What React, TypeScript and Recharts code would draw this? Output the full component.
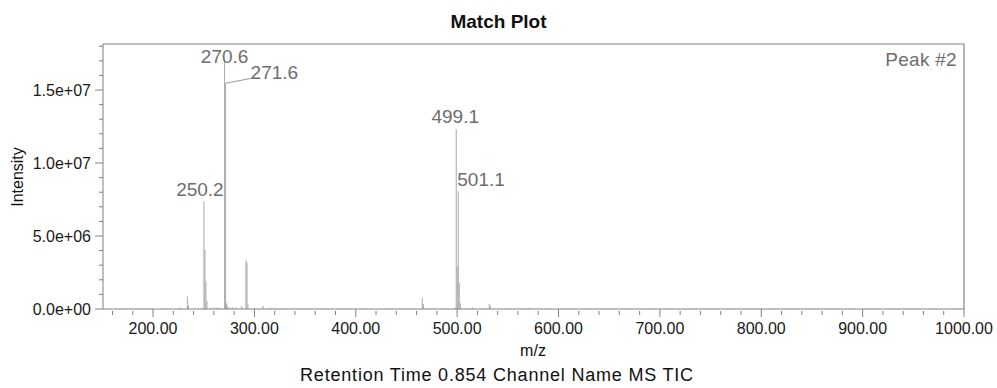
import { ComposedChart, Bar, XAxis, YAxis, ReferenceLine, LabelList } from 'recharts';

// m/z of every stick in the spectrum and its intensity
const mzValues = [
  226.6, 233.9, 234.9, 250.2, 251.2, 252.2, 253.2, 257.0, 260.0, 263.0, 266.0,
  270.6, 271.6, 272.6, 273.6, 276.0, 279.0, 282.0, 287.5, 291.7, 292.7, 293.7,
  300.0, 308.5, 315.5, 320.0, 465.6, 466.6, 498.1, 499.1, 500.1, 501.1, 502.1,
  503.1, 515.4, 531.7, 532.7, 571.0,
];
const intensities = [
  0.1e6, 0.86e6, 0.22e6, 7.36e6, 4.06e6, 1.89e6, 0.55e6, 0.08e6, 0.1e6, 0.1e6, 0.1e6,
  16.94e6, 15.46e6, 0.4e6, 0.2e6, 0.1e6, 0.12e6, 0.08e6, 0.2e6, 3.37e6, 3.17e6, 0.3e6,
  0.08e6, 0.2e6, 0.1e6, 0.05e6, 0.75e6, 0.35e6, 0.1e6, 12.31e6, 2.91e6, 8.04e6, 1.78e6,
  0.4e6, 0.1e6, 0.34e6, 0.2e6, 0.08e6,
];
// annotated peaks
const peakLabels = ['250.2', '270.6', '271.6', '499.1', '501.1'];

const xTicks = Array.from({ length: 43 }, (_, i) => 160 + i * 20);
const yTicks = Array.from({ length: 19 }, (_, i) => i * 1e6);

const data = mzValues.map((mz, i) => ({
  mz,
  intensity: intensities[i],
  label: peakLabels.find((l) => parseFloat(l) === mz),
}));

const FONT = '"Liberation Sans", Arial, sans-serif';
const AXIS = '#808080';

const fmtExp = (v: number) => {
  if (v === 0) return '0.0e+00';
  const e = Math.floor(Math.log10(v));
  const m = v / Math.pow(10, e);
  return `${m.toFixed(1)}e+${String(e).padStart(2, '0')}`;
};

const XTick = (props: any) => {
  const { x, y, payload } = props;
  const v = payload.value;
  const major = Math.abs(v % 100) < 1e-6;
  return (
    <g>
      <line x1={x} x2={x} y1={major ? y : y + 2} y2={major ? y + 8 : y + 6} stroke={AXIS} />
      {major && (
        <text x={x} y={y + 25} textAnchor="middle" fontSize={16} fill="#1a1a1a" fontFamily={FONT}>
          {v.toFixed(2)}
        </text>
      )}
    </g>
  );
};

const YTick = (props: any) => {
  const { x, y, payload } = props;
  const v = payload.value;
  const major = v % 5e6 === 0;
  return (
    <g>
      <line x1={x - (major ? 8 : 4)} x2={x} y1={y} y2={y} stroke={AXIS} />
      {major && (
        <text x={x - 12} y={y + 6} textAnchor="end" fontSize={16} fill="#1a1a1a" fontFamily={FONT}>
          {fmtExp(v)}
        </text>
      )}
    </g>
  );
};

const PeakLabel = (props: any) => {
  const { value } = props;
  if (!value) return null;
  const vb = props.viewBox ?? props;
  const cx = vb.x + (vb.width ?? 0) / 2;
  const top = vb.y;
  const common = { fontSize: 19, fill: '#6e6e6e', fontFamily: FONT };
  if (value === '271.6') {
    return (
      <g>
        <line x1={cx} y1={top} x2={cx + 26} y2={top - 5} stroke="#999" />
        <text x={cx + 25} y={top - 4} textAnchor="start" {...common}>{value}</text>
      </g>
    );
  }
  if (value === '501.1') {
    return <text x={cx - 1} y={top - 6} textAnchor="start" {...common}>{value}</text>;
  }
  if (value === '270.6') {
    return <text x={cx} y={top + 1} textAnchor="middle" {...common}>{value}</text>;
  }
  if (value === '250.2') {
    return <text x={cx - 4} y={top - 6} textAnchor="middle" {...common}>{value}</text>;
  }
  return <text x={cx - 1} y={top - 6} textAnchor="middle" {...common}>{value}</text>;
};

export default function App() {
  return (
    <div style={{ position: 'absolute', left: 0, top: 0, width: 997, height: 388, background: '#fff', fontFamily: FONT }}>
      <div style={{ position: 'absolute', left: 0, width: 997, top: 12, fontSize: 19, lineHeight: '19px', fontWeight: 'bold', textAlign: 'center', color: '#111' }}>
        Match Plot
      </div>
      <ComposedChart width={997} height={388} data={data} margin={{ top: 44, right: 33, bottom: 49, left: 43 }}>
        <XAxis
          dataKey="mz"
          type="number"
          domain={[150.65, 1000]}
          ticks={xTicks}
          interval={0}
          allowDataOverflow
          height={30}
          tickSize={0}
          tickMargin={0}
          tickLine={false}
          axisLine={{ stroke: AXIS }}
          tick={<XTick />}
        />
        <YAxis
          type="number"
          domain={[0, 18.15e6]}
          ticks={yTicks}
          interval={0}
          allowDataOverflow
          width={60}
          tickSize={0}
          tickMargin={0}
          tickLine={false}
          axisLine={{ stroke: AXIS }}
          tick={<YTick />}
        />
        <ReferenceLine y={18.15e6} stroke={AXIS} />
        <ReferenceLine x={1000} stroke="#999" strokeWidth={1.5} />
        <Bar dataKey="intensity" barSize={1} fill="#a8a8a8" isAnimationActive={false}>
          <LabelList dataKey="label" content={<PeakLabel />} />
        </Bar>
      </ComposedChart>
      <div style={{ position: 'absolute', right: 40, top: 50, fontSize: 19, lineHeight: '19px', color: '#6e6e6e', letterSpacing: 0.3 }}>
        Peak #2
      </div>
      <div style={{ position: 'absolute', left: 18 - 60, top: 177 - 8, width: 120, fontSize: 16, lineHeight: '16px', textAlign: 'center', color: '#111', transform: 'rotate(-90deg)' }}>
        Intensity
      </div>
      <div style={{ position: 'absolute', left: 533 - 40, width: 80, top: 343, fontSize: 16, lineHeight: '16px', textAlign: 'center', color: '#111' }}>
        m/z
      </div>
      <div style={{ position: 'absolute', left: 0, width: 994, top: 366, fontSize: 18, lineHeight: '18px', textAlign: 'center', color: '#111', letterSpacing: 0.8 }}>
        Retention Time 0.854 Channel Name MS TIC
      </div>
    </div>
  );
}
